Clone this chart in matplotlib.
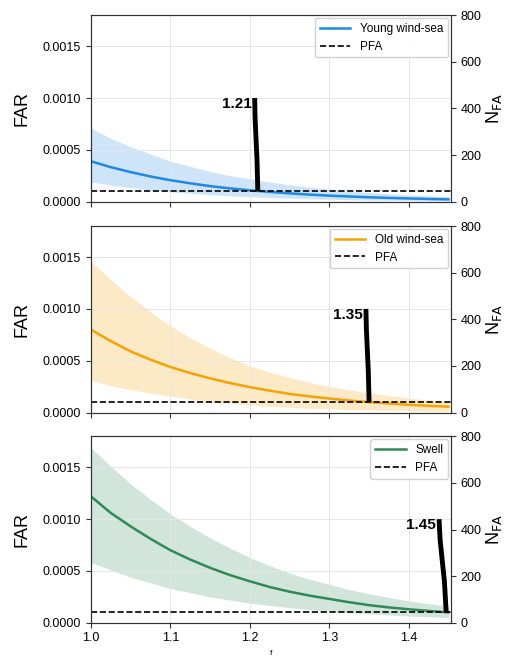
import matplotlib.pyplot as plt

plt.rcParams['font.family'] = ['Liberation Sans', 'DejaVu Sans']

f = [1.0, 1.025, 1.05, 1.075, 1.1, 1.125, 1.15, 1.175, 1.2, 1.225,
     1.25, 1.275, 1.3, 1.325, 1.35, 1.375, 1.4, 1.425, 1.45]

young_mean = [0.00039, 0.000333, 0.000285, 0.000243, 0.000207, 0.000177, 0.00015, 0.000128, 0.000109, 0.000094,
              0.00008, 0.000068, 0.000058, 0.00005, 0.000042, 0.000036, 0.000031, 0.000026, 0.000022]
young_hi = [0.00071, 0.00061, 0.00053, 0.00046, 0.00039, 0.00034, 0.00029, 0.000252, 0.00022, 0.00019,
            0.000162, 0.00014, 0.00012, 0.000103, 0.000088, 0.000076, 0.000065, 0.000056, 0.000048]
young_lo = [0.00019, 0.00016, 0.000135, 0.000113, 0.000095, 0.00008, 0.000067, 0.000056, 0.000047, 0.00004,
            0.000033, 0.000028, 0.000023, 0.000019, 0.000016, 0.000013, 0.000011, 0.0000095, 0.000008]

old_mean = [0.0008, 0.00069, 0.00059, 0.00051, 0.00044, 0.000381, 0.00033, 0.000285, 0.000245, 0.000211,
            0.00018, 0.000156, 0.000135, 0.000116, 0.0001, 0.000087, 0.000075, 0.000065, 0.000056]
old_hi = [0.00146, 0.00128, 0.00112, 0.00097, 0.00084, 0.00072, 0.00062, 0.00053, 0.00045, 0.00039,
          0.00034, 0.00029, 0.00025, 0.00022, 0.00019, 0.000165, 0.00014, 0.00012, 0.000105]
old_lo = [0.00031, 0.00026, 0.00022, 0.000187, 0.000158, 0.000131, 0.000108, 0.000089, 0.000073, 0.00006,
          0.00005, 0.000041, 0.000034, 0.000029, 0.000024, 0.00002, 0.000017, 0.000014, 0.000012]

swell_mean = [0.00122, 0.00106, 0.00093, 0.00081, 0.0007, 0.00061, 0.00053, 0.00046, 0.0004, 0.000345,
              0.0003, 0.000262, 0.00023, 0.000198, 0.00017, 0.000148, 0.00013, 0.000114, 0.0001]
swell_hi = [0.00169, 0.00151, 0.00134, 0.00119, 0.00105, 0.00093, 0.00082, 0.00072, 0.00063, 0.00055,
            0.00048, 0.00042, 0.00037, 0.00032, 0.00028, 0.000245, 0.00021, 0.000185, 0.00016]
swell_lo = [0.00058, 0.00051, 0.00044, 0.000385, 0.00033, 0.00029, 0.00025, 0.00022, 0.00019, 0.000167,
            0.000145, 0.000127, 0.00011, 0.000097, 0.000085, 0.000075, 0.000065, 0.000057, 0.00005]

labels = ['Young wind-sea', 'Old wind-sea', 'Swell']
colors = ['#1e88e5', '#f5a300', '#2e8b57']
thresholds = [1.21, 1.35, 1.45]
pfa = 0.0001

means = [young_mean, old_mean, swell_mean]
his = [young_hi, old_hi, swell_hi]
los = [young_lo, old_lo, swell_lo]
lean = [0.004, 0.004, 0.009]   # marker strokes lean a bit to the left

fig = plt.figure(figsize=(5.05, 6.59), dpi=100)
tops = [0.977, 0.657, 0.338]
h = 0.283

for i in range(3):
    ax = fig.add_axes([0.180, tops[i] - h, 0.713, h])
    ax.fill_between(f, los[i], his[i], color=colors[i], alpha=0.22, lw=0)
    ax.plot(f, means[i], color=colors[i], lw=1.8, label=labels[i])
    ax.axhline(pfa, color='black', ls='--', lw=1.2, label='PFA')
    # threshold marker
    t = thresholds[i] - 0.003 if i == 2 else thresholds[i]
    d = lean[i]
    ax.plot([t - d, t - 0.85 * d, t - 0.25 * d, t], [0.001, 0.0008, 0.0004, pfa],
            color='black', lw=3.5, solid_capstyle='butt')
    ax.text(t - d - 0.004, 0.00101, str(thresholds[i]), fontsize=11, fontweight='bold',
            ha='right', va='top')
    ax.set_xlim(1.0, 1.453)
    ax.set_ylim(0, 0.0018)
    ax.set_yticks([0, 0.0005, 0.001, 0.0015])
    ax.set_yticklabels(['0.0000', '0.0005', '0.0010', '0.0015'])
    ax.set_xticks([1.0, 1.1, 1.2, 1.3, 1.4])
    ax.grid(True, color='#e6e6e6', lw=0.7)
    ax.set_ylabel('FAR', fontsize=13, labelpad=9)
    ax.tick_params(labelsize=9, color='#333333')
    for s in ax.spines.values():
        s.set_color('#333333')
    if i < 2:
        ax.set_xticklabels([])
    else:
        ax.set_xlabel('f', fontsize=6)
    ax.legend(loc='upper right', fontsize=8.5, framealpha=0.9,
              borderaxespad=0.25, handlelength=2.6)

    ax2 = ax.twinx()
    ax2.set_ylim(0, 800)
    ax2.set_yticks([0, 200, 400, 600, 800])
    ax2.tick_params(labelsize=9, color='#333333')
    ax2.set_ylabel(r'N$_{\mathrm{FA}}$', fontsize=13, labelpad=2)
    for s in ax2.spines.values():
        s.set_color('#333333')

fig.savefig('out.png', dpi=100)
